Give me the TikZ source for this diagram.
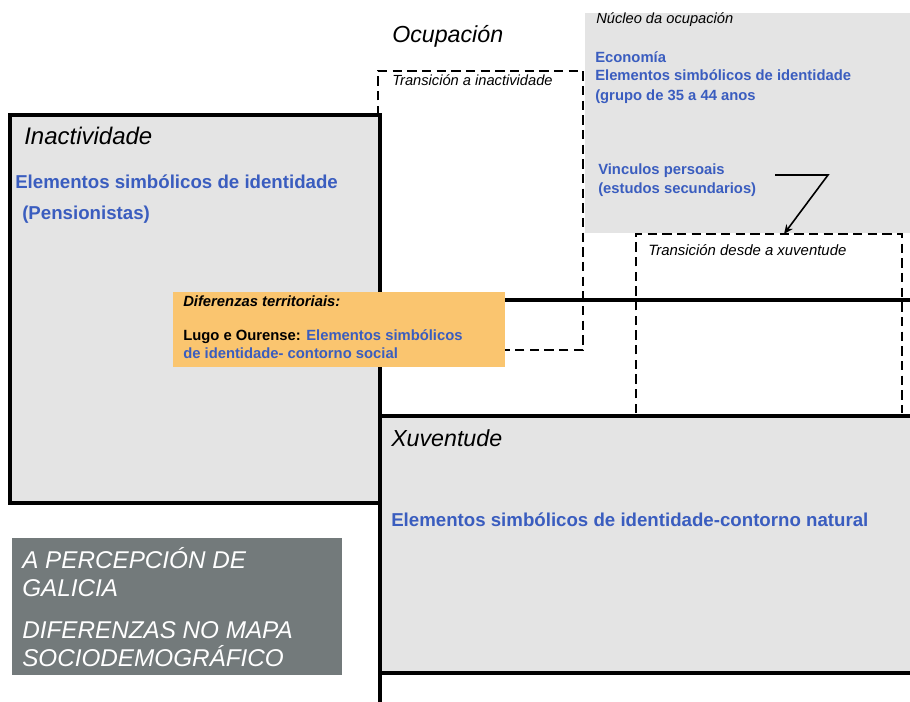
\documentclass[tikz,border=0pt]{standalone}
\usepackage{fontspec}
\setmainfont{Liberation Sans}
\usetikzlibrary{arrows.meta}
\definecolor{lgrey}{HTML}{E4E4E4}
\definecolor{tblue}{HTML}{3A5DBF}
\definecolor{orng}{HTML}{FAC56F}
\definecolor{dgrey}{HTML}{737A7B}
\begin{document}
\begin{tikzpicture}[x=0.75pt,y=-0.75pt,
  boldline/.style={line width=2.6pt,black},
  dashline/.style={line width=1.9pt,black,dash pattern=on 7pt off 4pt},
  txt/.style={anchor=base west,inner sep=0pt},
  title/.style={txt,font=\fontsize{17.4}{20}\selectfont\itshape},
  smallit/.style={txt,font=\fontsize{11}{13}\selectfont\itshape},
  bigblue/.style={txt,font=\fontsize{14}{17}\selectfont\bfseries,text=tblue},
  smallblue/.style={txt,font=\fontsize{11.1}{13}\selectfont\bfseries,text=tblue},
  greytxt/.style={txt,font=\fontsize{18.2}{20}\selectfont\itshape,text=white},
]
\useasboundingbox (0,0) rectangle (910,702);
% boxes
\fill[lgrey] (585,13) rectangle (910,233);
\fill[lgrey] (380,416) rectangle (910,673);
\draw[boldline,fill=lgrey] (10,115) rectangle (380,503);
\draw[boldline] (380,115) -- (380,702);
\draw[boldline] (380,300) -- (910,300);
\draw[boldline] (380,416) -- (910,416);
\draw[boldline] (380,673) -- (910,673);
% dashed boxes
\draw[dashline] (378,115) -- (378,71) -- (583,71) -- (583,350) -- (503,350);
\draw[dashline] (636,413) -- (636,234) -- (902,234) -- (902,413);
% orange box
\fill[orng] (173,292) rectangle (505,367);
% grey box
\fill[dgrey] (12,538) rectangle (342,675);
% arrow
\coordinate (a1) at (775,175);
\coordinate (a2) at (828,175);
\coordinate (a3) at (784,234);
\draw[line width=1.2pt,-{Stealth[length=7pt,width=6pt]}] (a1) -- (a2) -- (a3);
% texts
\node[title] (ocup) at (392,43) {Ocupación};
\node[smallit] (nucleo) at (596,24) {Núcleo da ocupación};
\node[smallblue] (eco) at (595,63) {Economía};
\node[smallblue] (eco2) at (595,81) {Elementos simbólicos de identidade};
\node[smallblue] (eco3) at (595,101) {(grupo de 35 a 44 anos};
\node[smallblue] (vinc) at (598,175) {Vinculos persoais};
\node[smallblue] (vinc2) at (598,194) {(estudos secundarios)};
\node[smallit] (trinact) at (392,86) {Transición a inactividade};
\node[smallit,font=\fontsize{11.2}{13}\selectfont\itshape] (trxuv) at (648,256) {Transición desde a xuventude};
\node[title,font=\fontsize{18}{20}\selectfont\itshape] (inact) at (24,145) {Inactividade};
\node[bigblue] (inact1) at (15,189) {Elementos simbólicos de identidade};
\node[bigblue] (inact2) at (22,220) {(Pensionistas)};
\node[title] (xuv) at (391,446) {Xuventude};
\node[bigblue] (xuv1) at (391,526) {Elementos simbólicos de identidade-contorno natural};
\node[txt,font=\fontsize{11.1}{12}\selectfont\bfseries\itshape] (dif) at (183,306) {Diferenzas territoriais:};
\node[txt,font=\fontsize{11.1}{13}\selectfont\bfseries] (lugo) at (183,340) {Lugo e Ourense: \textcolor{tblue}{Elementos simbólicos}};
\node[smallblue] (lugo2) at (183,358) {de identidade- contorno social};
\node[greytxt] (g1) at (22,568) {A PERCEPCIÓN DE};
\node[greytxt] (g2) at (22,596) {GALICIA};
\node[greytxt] (g3) at (22,638) {DIFERENZAS NO MAPA};
\node[greytxt] (g4) at (22,666) {SOCIODEMOGRÁFICO};
\end{tikzpicture}
\end{document}
